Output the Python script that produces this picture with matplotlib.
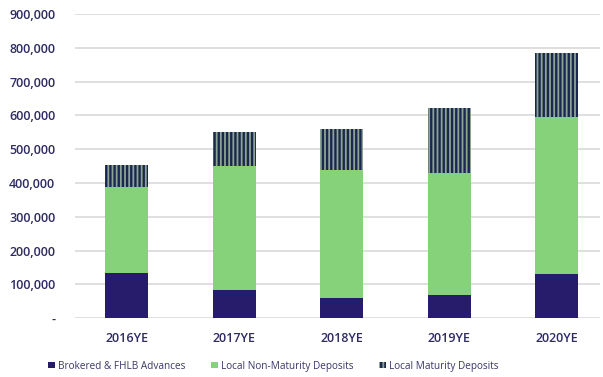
import matplotlib.pyplot as plt
import matplotlib.ticker as mticker
import numpy as np

# funding mix by year end (in thousands of dollars)
years = ['2016YE', '2017YE', '2018YE', '2019YE', '2020YE']
brokered_fhlb = [135000, 84000, 59000, 69000, 130000]
local_non_maturity = [253000, 365000, 378000, 360000, 465000]
local_maturity = [66000, 101000, 123000, 193000, 190000]

NAVY = '#271c6b'
GREEN = '#86d27a'
TEXT = '#2e2b62'

plt.rcParams['font.family'] = ['Open Sans', 'DejaVu Sans']
plt.rcParams['hatch.linewidth'] = 1.7

fig = plt.figure(figsize=(6.03, 3.77), dpi=100)
ax = fig.add_axes([0.124, 0.156, 0.871, 0.807])

x = np.arange(len(years))
width = 0.4
bottom2 = np.array(brokered_fhlb)
bottom3 = bottom2 + np.array(local_non_maturity)

ax.bar(x, brokered_fhlb, width, color=NAVY, label='Brokered & FHLB Advances', zorder=3)
ax.bar(x, local_non_maturity, width, bottom=bottom2, color=GREEN,
       label='Local Non-Maturity Deposits', zorder=3)
ax.bar(x, local_maturity, width, bottom=bottom3, facecolor='#8aa592', edgecolor='#1c2750',
       hatch='||||', linewidth=0, label='Local Maturity Deposits', zorder=3)

ax.set_ylim(0, 900000)
ax.set_xlim(-0.484, 4.4)
ax.yaxis.set_major_locator(mticker.MultipleLocator(100000))
ax.yaxis.set_major_formatter(mticker.FuncFormatter(lambda v, p: '-' if v == 0 else f'{v:,.0f}'))
ax.grid(axis='y', color='#d9d9d9', linewidth=1.2, zorder=0)
ax.set_axisbelow(True)
for s in ax.spines.values():
    s.set_visible(False)

ax.set_xticks(x)
ax.set_xticklabels(years)
ax.tick_params(axis='both', length=0, colors=TEXT, labelsize=9)
ax.tick_params(axis='x', pad=10)
ax.tick_params(axis='y', pad=14)
for lbl in ax.get_xticklabels() + ax.get_yticklabels():
    lbl.set_fontweight('semibold')

leg = fig.legend(loc='center', bbox_to_anchor=(0.453, 0.029), ncol=3, frameon=False,
                 fontsize=7.2, handlelength=0.65, handleheight=0.65, handletextpad=0.3,
                 columnspacing=2.6)
for t in leg.get_texts():
    t.set_color('#3a3868')

fig.savefig('out.png', dpi=100)
